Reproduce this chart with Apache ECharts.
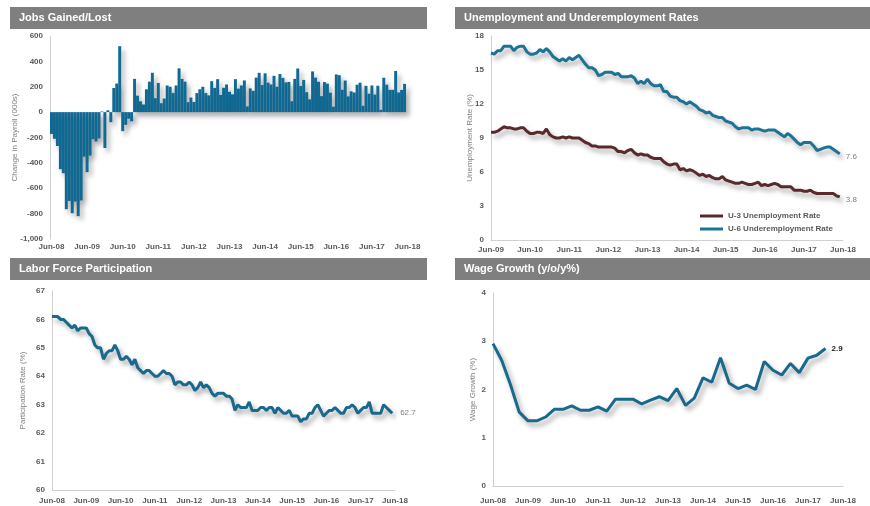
<!DOCTYPE html>
<html><head><meta charset="utf-8">
<script src="https://cdn.jsdelivr.net/npm/echarts@6/dist/echarts.min.js"></script>
<style>html,body{margin:0;padding:0;background:#fff}#c{width:870px;height:506px}</style>
</head><body><div id="c"></div><script>
// ---------- data ----------
const yearTicks = ['Jun-08','Jun-09','Jun-10','Jun-11','Jun-12','Jun-13','Jun-14','Jun-15','Jun-16','Jun-17','Jun-18'];
const unempTicks = ['Jun-09','Jun-10','Jun-11','Jun-12','Jun-13','Jun-14','Jun-15','Jun-16','Jun-17','Jun-18'];
const panelTitles = ['Jobs Gained/Lost','Unemployment and Underemployment Rates','Labor Force Participation','Wage Growth (y/o/y%)'];
const axisNames = ['Change in Payroll (000s)','Unemployment Rate (%)','Participation Rate (%)','Wage Growth (%)'];
const legendNames = ['U-3 Unemployment Rate','U-6 Underemployment Rate'];

// Monthly change in payrolls, Jun-08 .. May-18 (000s)
const jobsValues = [
  -172,-210,-267,-450,-481,-765,-700,
  -797,-705,-820,-696,-351,-473,-342,-213,-231,-207,5,-283,
  14,-79,190,225,520,-150,-100,-52,-72,262,130,85,
  60,180,240,310,110,230,70,107,210,200,150,210,
  345,262,240,78,115,80,150,180,200,150,132,244,
  190,260,135,192,218,160,140,260,185,210,250,45,
  187,168,272,310,213,306,232,218,286,200,300,270,
  234,238,86,262,344,206,254,157,100,321,272,239,
  126,237,225,153,43,297,291,176,249,124,164,155,
  216,232,50,207,145,210,138,208,18,271,216,175,
  176,324,155,175,223
];
// U-3, Jun-09 .. May-18 (%)
const u3Values = [
  9.5,9.5,9.6,9.8,10.0,9.9,9.9,
  9.8,9.8,9.9,9.9,9.6,9.4,9.4,9.5,9.5,9.4,9.8,9.3,
  9.1,9.0,9.0,9.1,9.0,9.1,9.0,9.0,9.0,8.8,8.6,8.5,
  8.3,8.3,8.2,8.2,8.2,8.2,8.2,8.1,7.8,7.8,7.7,7.9,
  8.0,7.7,7.5,7.6,7.5,7.5,7.3,7.2,7.2,7.2,6.9,6.7,
  6.6,6.7,6.7,6.2,6.3,6.1,6.2,6.1,5.9,5.7,5.8,5.6,
  5.7,5.5,5.4,5.4,5.6,5.3,5.2,5.1,5.0,5.0,5.1,5.0,
  4.9,4.9,5.0,5.1,4.8,4.9,4.8,4.9,5.0,4.9,4.7,4.7,
  4.7,4.7,4.4,4.4,4.4,4.3,4.3,4.4,4.2,4.1,4.1,4.1,
  4.1,4.1,4.1,3.9,3.8
];
// U-6, Jun-09 .. May-18 (%)
const u6Values = [
  16.5,16.4,16.7,16.7,17.1,17.1,17.1,
  16.7,17.0,17.1,17.1,16.6,16.4,16.4,16.5,16.8,16.6,16.9,16.6,
  16.2,16.0,15.8,16.0,15.8,16.1,15.9,16.1,16.3,15.9,15.5,15.2,
  15.2,15.0,14.5,14.6,14.8,14.8,14.8,14.6,14.7,14.4,14.4,14.4,
  14.5,14.3,13.8,14.0,13.8,14.2,13.8,13.6,13.6,13.7,13.1,13.1,
  12.7,12.6,12.6,12.3,12.2,12.0,12.2,12.0,11.8,11.5,11.4,11.2,
  11.3,11.0,10.9,10.8,10.8,10.5,10.4,10.3,10.0,9.8,9.9,9.9,
  9.9,9.7,9.8,9.8,9.7,9.6,9.7,9.7,9.7,9.5,9.3,9.1,
  9.4,9.2,8.9,8.6,8.4,8.6,8.6,8.6,8.3,7.9,8.0,8.1,
  8.2,8.2,8.0,7.8,7.6
];
// Labor force participation, Jun-08 .. May-18 (%)
const lfprValues = [
  66.1,66.1,66.1,66.0,66.0,65.9,65.8,
  65.7,65.8,65.6,65.7,65.7,65.7,65.5,65.4,65.1,65.0,65.0,64.6,
  64.8,64.9,64.9,65.1,64.9,64.6,64.6,64.7,64.6,64.4,64.6,64.3,
  64.2,64.1,64.2,64.2,64.1,64.0,64.0,64.1,64.2,64.1,64.1,64.0,
  63.7,63.8,63.8,63.7,63.7,63.8,63.7,63.5,63.6,63.8,63.6,63.7,
  63.6,63.4,63.3,63.4,63.4,63.4,63.3,63.3,63.2,62.8,63.0,62.9,
  62.9,62.9,63.1,62.8,62.8,62.8,62.9,62.9,62.8,62.9,62.9,62.7,
  62.9,62.8,62.7,62.7,62.8,62.6,62.6,62.6,62.4,62.5,62.5,62.7,
  62.7,62.9,63.0,62.8,62.6,62.7,62.8,62.8,62.9,62.8,62.7,62.7,
  62.9,62.9,63.0,62.9,62.7,62.8,62.9,62.9,63.1,62.7,62.7,62.7,
  62.7,63.0,62.9,62.8,62.7
];
// Wage growth, quarterly Jun-08 .. Dec-17 (%)
const wageValues = [
  2.95,2.6,2.1,1.53,1.35,1.35,1.43,1.59,1.59,1.66,1.57,1.57,1.64,1.55,
  1.8,1.8,1.8,1.7,1.78,1.85,1.77,2.02,1.67,1.82,2.24,2.15,2.66,2.13,
  2.02,2.09,2.0,2.58,2.4,2.3,2.54,2.35,2.65,2.71,2.85
];

// ---------- categories ----------
const MON = ['Jan','Feb','Mar','Apr','May','Jun','Jul','Aug','Sep','Oct','Nov','Dec'];
function periodCats(firstTick, lastTick, step) {
  const y0 = 2000 + parseInt(firstTick.slice(4), 10);
  const y1 = 2000 + parseInt(lastTick.slice(4), 10);
  const out = [];
  for (let k = 0; ; k += step) {
    const mi = (5 + k) % 12, y = y0 + Math.floor((5 + k) / 12);
    out.push(MON[mi] + '-' + String(y % 100).padStart(2, '0'));
    if (y === y1 && mi === 5) break;
  }
  return out;
}
const monthCats08 = periodCats(yearTicks[0], yearTicks[yearTicks.length-1], 1);
const monthCats09 = periodCats(unempTicks[0], unempTicks[unempTicks.length-1], 1);
const quarterCats08 = periodCats(yearTicks[0], yearTicks[yearTicks.length-1], 3);

// ---------- styles ----------
const FONT = '"Liberation Sans", Arial, sans-serif';
const labelStyle = {color:'#595959', fontSize:8, fontWeight:'bold', fontFamily:FONT};
const nameStyle = {color:'#7f7f7f', fontSize:8, fontFamily:FONT};
const axisLineGray = {show:true, lineStyle:{color:'#d0d0d0', width:1}};
const BAR_BLUE = '#116a94', LINE_BLUE = '#19698c', TEAL = '#1c7393', MAROON = '#582a2b';
const shadow = {shadowColor:'rgba(0,0,0,0.35)', shadowBlur:5, shadowOffsetX:3, shadowOffsetY:4};

function xCat(gridIndex, data, interval, boundaryGap, margin, lineShow) {
  return {type:'category', gridIndex, data, boundaryGap,
    axisLine: lineShow ? {show:true, onZero:false, lineStyle:{color:'#d0d0d0'}} : {show:false, onZero:false},
    axisTick:{show:false},
    axisLabel:Object.assign({interval, margin, showMinLabel:true, showMaxLabel:true}, labelStyle),
    splitLine:{show:false}};
}
function yVal(gridIndex, min, max, interval, name, nameGap, fmt) {
  return {type:'value', gridIndex, min, max, interval, name, nameLocation:'middle', nameGap,
    nameMoveOverlap:false,
    nameTextStyle:nameStyle, axisLine:axisLineGray, axisTick:{show:false},
    axisLabel:Object.assign({margin:7, formatter:fmt}, labelStyle),
    splitLine:{show:false}};
}

const headers = [
  {x:10, y:7, w:417, title:panelTitles[0]},
  {x:455, y:7, w:415, title:panelTitles[1]},
  {x:10, y:258, w:417, title:panelTitles[2]},
  {x:455, y:258, w:415, title:panelTitles[3]}
];
const graphic = [];
headers.forEach(h => {
  graphic.push({type:'rect', shape:{x:h.x, y:h.y, width:h.w, height:22}, style:{fill:'#7f7f7f'}, silent:true});
  graphic.push({type:'text', x:h.x+9, y:h.y+11, style:{text:h.title, fill:'#ffffff', font:'bold 11px ' + FONT, verticalAlign:'middle'}, silent:true});
});

const chart = echarts.init(document.getElementById('c'), null, {renderer:'canvas'});
chart.setOption({
  backgroundColor:'#ffffff',
  animation:false,
  graphic,
  legend:{
    data:legendNames, orient:'vertical', left:700, top:211, padding:0,
    itemWidth:23, itemHeight:3, itemGap:3, icon:'rect',
    textStyle:Object.assign({lineHeight:10}, labelStyle)
  },
  grid:[
    {left:50, top:36, width:359, height:203},
    {left:491, top:36, width:352, height:204},
    {left:52, top:291, width:343, height:199},
    {left:493, top:293, width:350, height:193}
  ],
  xAxis:[
    xCat(0, monthCats08, 11, true, 4, false),
    xCat(1, monthCats09, 11, false, 6, true),
    xCat(2, monthCats08, 11, false, 7, true),
    xCat(3, quarterCats08, 3, false, 11, true)
  ],
  yAxis:[
    yVal(0, -1000, 600, 200, axisNames[0], 31, v => v.toLocaleString('en-US')),
    yVal(1, 0, 18, 3, axisNames[1], 17),
    yVal(2, 60, 67, 1, axisNames[2], 25),
    yVal(3, 0, 4, 1, axisNames[3], 16)
  ],
  series:[
    {name:'jobs', type:'bar', xAxisIndex:0, yAxisIndex:0, data:jobsValues,
     barCategoryGap:'0%', itemStyle:Object.assign({color:BAR_BLUE}, shadow)},
    {name:legendNames[0], type:'line', xAxisIndex:1, yAxisIndex:1, data:u3Values,
     symbol:'none', color:MAROON, lineStyle:Object.assign({color:MAROON, width:3}, shadow),
     endLabel:{show:true, distance:6, offset:[0,3], formatter:p => Number(p.value).toFixed(1), color:'#7f7f7f', fontSize:8, fontFamily:FONT}},
    {name:legendNames[1], type:'line', xAxisIndex:1, yAxisIndex:1, data:u6Values,
     symbol:'none', color:TEAL, lineStyle:Object.assign({color:TEAL, width:3}, shadow),
     endLabel:{show:true, distance:6, offset:[0,3], formatter:p => Number(p.value).toFixed(1), color:'#7f7f7f', fontSize:8, fontFamily:FONT}},
    {name:'lfpr', type:'line', xAxisIndex:2, yAxisIndex:2, data:lfprValues,
     symbol:'none', color:LINE_BLUE, lineStyle:Object.assign({color:LINE_BLUE, width:3}, shadow),
     endLabel:{show:true, distance:8, formatter:p => Number(p.value).toFixed(1), color:'#7f7f7f', fontSize:8, fontFamily:FONT}},
    {name:'wage', type:'line', xAxisIndex:3, yAxisIndex:3, data:wageValues,
     symbol:'none', color:LINE_BLUE, lineStyle:Object.assign({color:LINE_BLUE, width:3}, shadow),
     endLabel:{show:true, distance:6, formatter:p => Number(p.value).toFixed(1), color:'#222222', fontSize:8, fontWeight:'bold', fontFamily:FONT}}
  ]
});
</script></body></html>
